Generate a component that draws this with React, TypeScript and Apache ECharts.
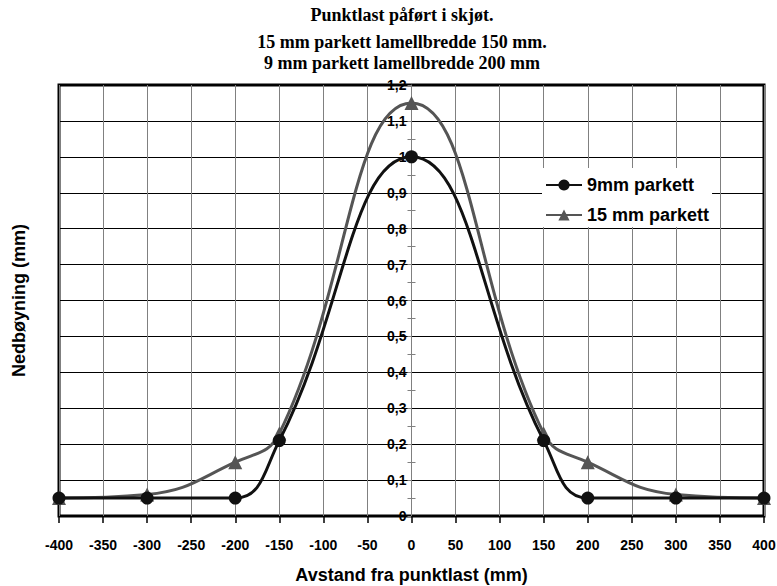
import React, { useEffect, useRef } from "react";
import * as echarts from "echarts";

const titleLines = [
  "Punktlast påført i skjøt.",
  "15 mm parkett lamellbredde 150 mm.",
  "9 mm parkett lamellbredde 200 mm",
];
const xName = "Avstand fra punktlast (mm)";
const yName = "Nedbøyning (mm)";
const seriesNames = ["9mm parkett", "15 mm parkett"];
const xPositions = [-400, -300, -200, -150, 0, 150, 200, 300, 400];
const values9mm = [0.05, 0.05, 0.05, 0.21, 1.0, 0.21, 0.05, 0.05, 0.05];
const values15mm = [0.05, 0.06, 0.15, 0.23, 1.15, 0.23, 0.15, 0.06, 0.05];

const GRID_LEFT = 59;
const GRID_RIGHT = 13;
const CHART_W = 777;

export default function App() {
  const ref = useRef<HTMLDivElement>(null);
  useEffect(() => {
    if (!ref.current) return;
    const chart = echarts.init(ref.current, null, { renderer: "svg" });
    const fmtY = (v: number) => String(+v.toFixed(1)).replace(".", ",");
    const plotW = CHART_W - GRID_LEFT - GRID_RIGHT;
    const zeroOffset = plotW / 2; // distance from plot edge to x = 0
    const titleTops = [6, 33, 54];
    chart.setOption({
      animation: false,
      backgroundColor: "#fff",
      title: titleLines.map((t, i) => ({
        text: t,
        left: 402,
        top: titleTops[i],
        textAlign: "center",
        padding: 0,
        textStyle: {
          fontFamily: "Liberation Serif",
          fontWeight: "bold",
          fontSize: 18,
          color: "#000",
        },
      })),
      legend: {
        orient: "vertical",
        left: 542,
        top: 168,
        backgroundColor: "#fff",
        padding: [8, 3, 3, 3],
        itemWidth: 36,
        itemHeight: 14,
        itemGap: 12,
        textStyle: {
          fontFamily: "Liberation Sans",
          fontWeight: "bold",
          fontSize: 18,
          color: "#000",
        },
        data: seriesNames,
      },
      grid: {
        left: GRID_LEFT,
        right: GRID_RIGHT,
        top: 85,
        bottom: 70,
        show: true,
        borderColor: "#000",
        borderWidth: 3,
        backgroundColor: "transparent",
        outerBoundsMode: "none",
        containLabel: false,
      },
      xAxis: {
        type: "value",
        min: -400,
        max: 400,
        interval: 50,
        name: xName,
        nameLocation: "middle",
        nameGap: 50,
        nameTextStyle: {
          fontFamily: "Liberation Sans",
          fontWeight: "bold",
          fontSize: 18,
          color: "#000",
        },
        axisLine: { show: false, onZero: false },
        axisTick: { show: true, length: 7, lineStyle: { color: "#000", width: 1.5 } },
        axisLabel: {
          margin: 22,
          fontFamily: "Liberation Sans",
          fontWeight: "bold",
          fontSize: 14,
          color: "#000",
        },
        splitLine: { show: true, lineStyle: { color: "#808080", width: 1 } },
      },
      yAxis: [
        {
          type: "value",
          min: 0,
          max: 1.2,
          interval: 0.1,
          position: "left",
          offset: -zeroOffset,
          name: yName,
          nameLocation: "middle",
          nameGap: 384,
          nameTextStyle: {
            fontFamily: "Liberation Sans",
            fontWeight: "bold",
            fontSize: 18,
            color: "#000",
          },
          axisLine: { show: true, onZero: false, lineStyle: { color: "#808080", width: 1 } },
          axisTick: { show: true, length: 4, lineStyle: { color: "#808080" } },
          minorTick: { show: true, splitNumber: 2, length: 4, lineStyle: { color: "#808080" } },
          axisLabel: {
            margin: 5,
            formatter: fmtY,
            fontFamily: "Liberation Sans",
            fontWeight: "bold",
            fontSize: 14,
            color: "#000",
          },
          splitLine: { show: true, lineStyle: { color: "#000", width: 1 } },
        },
        {
          type: "value",
          min: 0,
          max: 1.2,
          interval: 0.1,
          position: "right",
          offset: -zeroOffset,
          axisLine: { show: false, onZero: false },
          axisTick: { show: false },
          minorTick: { show: true, splitNumber: 2, length: 4, lineStyle: { color: "#808080" } },
          axisLabel: { show: false },
          splitLine: { show: false },
        },
      ],
      series: [
        {
          name: seriesNames[0],
          type: "line",
          smooth: 0.45,
          data: xPositions.map((x, i) => [x, values9mm[i]]),
          symbol: "circle",
          symbolSize: 13,
          lineStyle: { color: "#111", width: 3 },
          itemStyle: { color: "#111" },
          z: 4,
        },
        {
          name: seriesNames[1],
          type: "line",
          smooth: 0.45,
          data: xPositions.map((x, i) => [x, values15mm[i]]),
          symbol: "triangle",
          symbolSize: 14,
          lineStyle: { color: "#555", width: 3 },
          itemStyle: { color: "#555" },
          z: 3,
        },
      ],
    });
    return () => chart.dispose();
  }, []);
  return <div ref={ref} style={{ width: 777, height: 586, position: "absolute", left: 0, top: 0 }} />;
}
